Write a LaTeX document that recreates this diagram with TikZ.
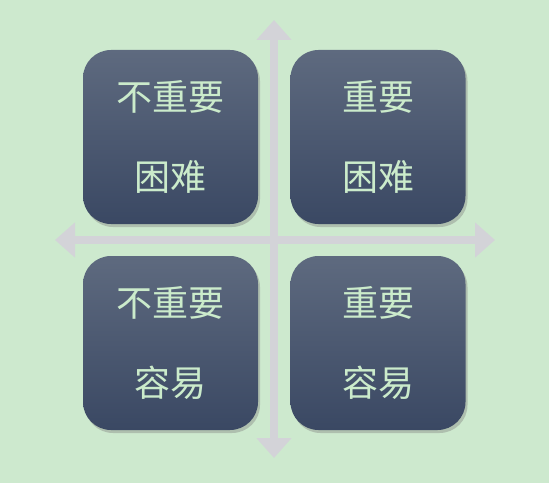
\documentclass[tikz,border=0pt]{standalone}
\usepackage{fontspec}
\newfontfamily\cjk{Noto Sans CJK SC}
\usetikzlibrary{arrows.meta,shadows}
\definecolor{bg}{HTML}{CDE9CE}
\definecolor{boxtop}{HTML}{5E6A7F}
\definecolor{boxbot}{HTML}{3A4863}
\definecolor{boxtext}{HTML}{CBEBCB}
\definecolor{axisgray}{HTML}{D3D3D8}

\begin{document}
\begin{tikzpicture}[x=1pt, y=1pt,
    quad/.style={rectangle, rounded corners=28pt, minimum width=175pt, minimum height=174pt,
      top color=boxtop, bottom color=boxbot, text=boxtext, align=center,
      drop shadow={opacity=0.4, shadow xshift=2pt, shadow yshift=-3pt},
      font=\cjk\fontsize{36}{80}\selectfont},
    axis/.style={line width=8pt, draw=axisgray,
      {Triangle[width=34pt,length=20pt]}-{Triangle[width=34pt,length=20pt]}}
  ]
  \fill[bg] (0,0) rectangle (549,483);
  \useasboundingbox (0,0) rectangle (549,483);
  % axes
  \coordinate (west) at (55,243);
  \coordinate (east) at (495,243);
  \coordinate (north) at (274,463);
  \coordinate (south) at (274,25);
  \draw[axis] (west) -- (east);
  \draw[axis] (north) -- (south);
  % quadrants
  \node[quad] (lowhard) at (170.5,346) {不重要\\困难};
  \node[quad] (highhard) at (378,346) {重要\\困难};
  \node[quad] (loweasy) at (170.5,140) {不重要\\容易};
  \node[quad] (higheasy) at (378,140) {重要\\容易};
\end{tikzpicture}
\end{document}
